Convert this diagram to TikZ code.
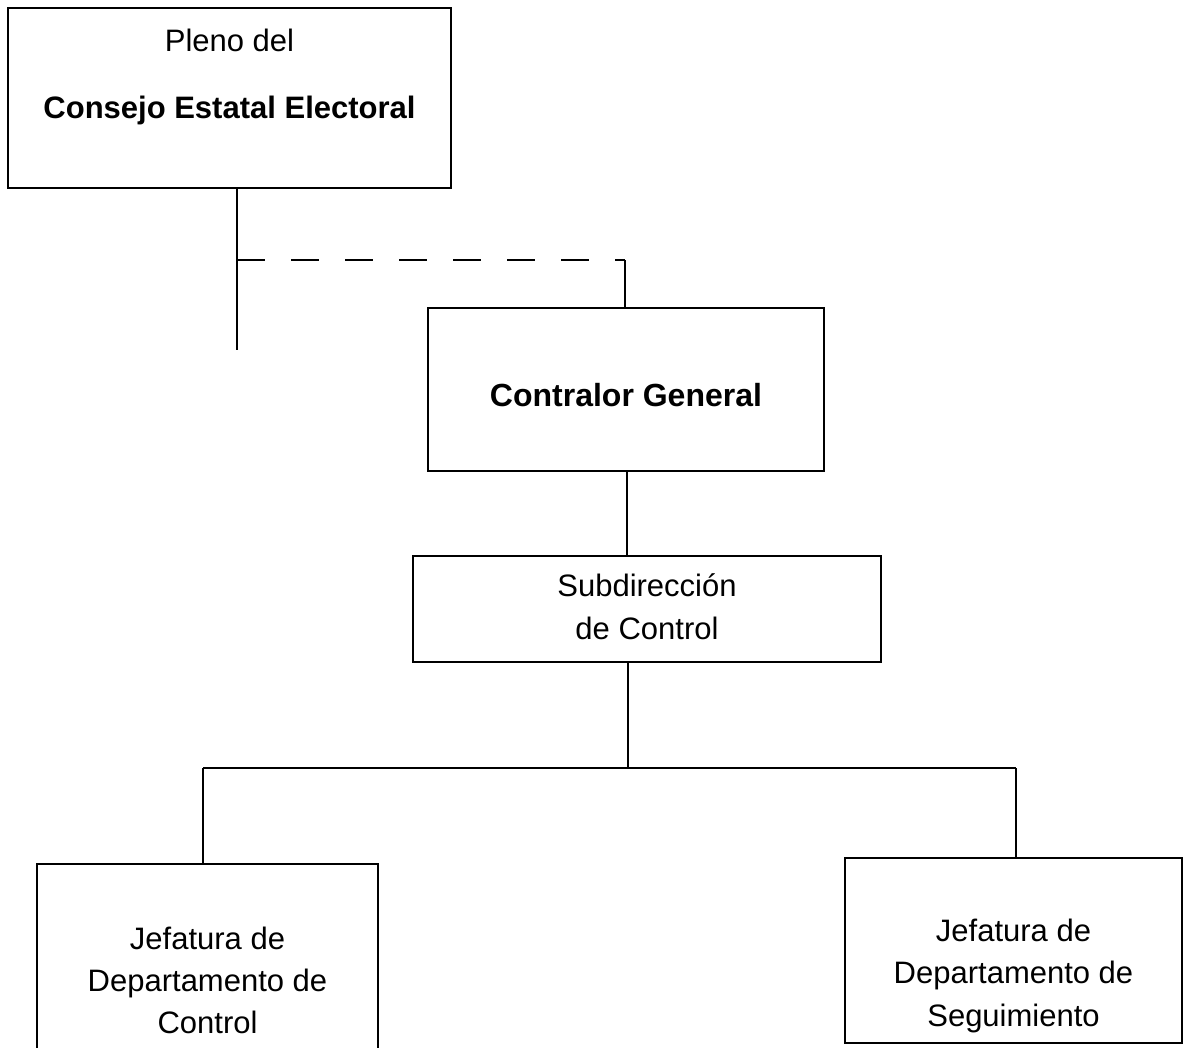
\documentclass[tikz,border=0pt]{standalone}
\usepackage{fontspec}
\setmainfont{Liberation Sans}
\begin{document}
\begin{tikzpicture}[x=1pt,y=-1pt,
  box/.style={draw, line width=1.8pt, inner sep=0pt, fill=none},
  conn/.style={line width=1.8pt},
  lbl/.style={anchor=base, inner sep=0pt, font=\fontsize{31}{42}\selectfont},
  blbl/.style={anchor=base, inner sep=0pt, font=\fontsize{31}{42}\selectfont\bfseries}]
\useasboundingbox (0,0) rectangle (1185,1047);
\clip (0,0) rectangle (1185,1047);
% boxes
\node[box, minimum width=443pt, minimum height=180pt] (pleno) at (229.5,98) {};
\node[box, minimum width=396pt, minimum height=163pt] (contralor) at (626,389.5) {};
\node[box, minimum width=468pt, minimum height=106pt] (sub) at (647,609) {};
\node[box, minimum width=341pt, minimum height=206pt] (left) at (207.5,967) {};
\node[box, minimum width=337pt, minimum height=185pt] (right) at (1013.5,950.5) {};
% texts
\node[lbl] (t1) at (229.5,51) {Pleno del};
\node[blbl] (t2) at (229.5,118) {Consejo Estatal Electoral};
\node[blbl, font=\fontsize{32}{42}\selectfont\bfseries] (t3) at (626,406) {Contralor General};
\node[lbl] (t4) at (647,596) {Subdirección};
\node[lbl] (t5) at (647,639) {de Control};
\node[lbl] (t6) at (207.5,949) {Jefatura de};
\node[lbl] (t7) at (207.5,991) {Departamento de};
\node[lbl] (t8) at (207.5,1033) {Control};
\node[lbl] (t9) at (1013.5,941) {Jefatura de};
\node[lbl] (t10) at (1013.5,983) {Departamento de};
\node[lbl] (t11) at (1013.5,1026) {Seguimiento};
% coordinates
\coordinate (stub) at (237,350);
\coordinate (dj) at (237,260);
\coordinate (dc) at (625,260);
\coordinate (hj) at (628,768);
\coordinate (hl) at (203,768);
\coordinate (hr) at (1016,768);
% connectors
\draw[conn] (pleno.south -| stub) -- (stub);
\draw[conn, dash pattern=on 28pt off 26pt] (dj) -- (dc);
\draw[conn] (dc) -- (contralor.north -| dc);
\draw[conn] (contralor.south -| 627,0) -- (sub.north -| 627,0);
\draw[conn] (sub.south -| hj) -- (hj);
\draw[conn] (hl) -- (hr);
\draw[conn] (hl) -- (left.north -| hl);
\draw[conn] (hr) -- (right.north -| hr);
\end{tikzpicture}
\end{document}
